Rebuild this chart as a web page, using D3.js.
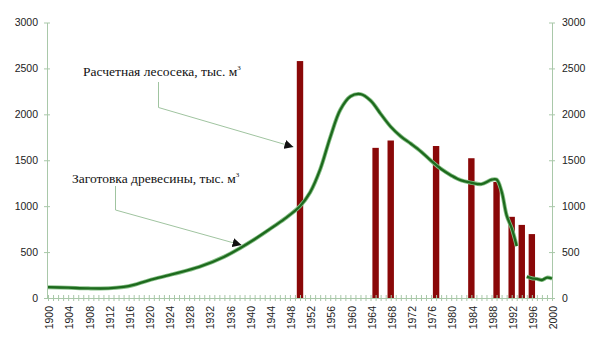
<!DOCTYPE html>
<html>
<head>
<meta charset="utf-8">
<script src="https://cdn.jsdelivr.net/npm/d3@7"></script>
<style>
  html, body { margin: 0; padding: 0; background: #fff; }
  svg { display: block; }
  .tick text { font-family: "Liberation Sans", Arial, sans-serif; font-size: 10.5px; fill: #222; }
  .note { font-family: "Liberation Serif", "Times New Roman", serif; font-size: 13.5px; fill: #111; }
</style>
</head>
<body>
<svg id="chart" width="600" height="346"></svg>
<script>
// Годы с расчетной лесосекой (тыс. м³)
const cutYears = [1950, 1965, 1968, 1977, 1984, 1989, 1992, 1994, 1996];
const cutValues = [2580, 1635, 1715, 1655, 1522, 1264, 884, 796, 696];

// Заготовка древесины (тыс. м³); null — нет данных
const harvestYears = [1900, 1904, 1908, 1912, 1915, 1917, 1920, 1925, 1930, 1935, 1938, 1941, 1944, 1947,
  1950, 1952, 1954, 1956, 1958, 1960, 1962, 1964, 1966, 1968, 1970, 1972, 1974, 1976, 1978, 1980,
  1982, 1984, 1986, 1988, 1989, 1990, 1991, 1992, 1993, 1994, 1995, 1996, 1997, 1998, 1999, 2000];
const harvestValues = [118, 112, 105, 105, 120, 142, 192, 262, 338, 450, 540, 640, 750, 865,
  1000, 1150, 1400, 1750, 2050, 2195, 2220, 2150, 2005, 1865, 1760, 1680, 1595, 1495, 1405, 1335,
  1280, 1255, 1240, 1288, 1290, 1160, 900, 760, 565, null, 232, 215, 208, 196, 222, 212];

const yTicks = [0, 500, 1000, 1500, 2000, 2500, 3000];
const xLabelYears = d3.range(1900, 2001, 4);
const allYears = d3.range(1900, 2001, 1);

const labelCut = "Расчетная лесосека, тыс. м";
const labelHarvest = "Заготовка древесины, тыс. м";

const svg = d3.select("#chart");
const axisColor = "#a9c8a9";

const x = d3.scaleLinear().domain([1900, 2000]).range([48, 552]);
const y = d3.scaleLinear().domain([0, 3000]).range([298, 22.5]);

// Bars
svg.append("g").selectAll("rect")
  .data(cutYears.map((yr, i) => ({ yr, v: cutValues[i] })))
  .join("rect")
  .attr("x", d => x(d.yr) - 3.2)
  .attr("width", 6.4)
  .attr("y", d => y(d.v))
  .attr("height", d => y(0) - y(d.v))
  .attr("fill", "#8a0808");

// Axes
function styleAxis(g) {
  g.select(".domain").attr("stroke", axisColor).attr("stroke-width", 1);
  g.selectAll(".tick line").attr("stroke", axisColor);
}

const fmt = d3.format("d");

const gL = svg.append("g").attr("transform", `translate(${x(1900) - 1},0)`)
  .call(d3.axisLeft(y).tickValues(yTicks).tickFormat(fmt).tickSizeInner(3).tickSizeOuter(0).tickPadding(6));
gL.selectAll(".tick line").attr("x1", 3);
styleAxis(gL);

const gR = svg.append("g").attr("transform", `translate(${x(2000)},0)`)
  .call(d3.axisRight(y).tickValues(yTicks).tickFormat(fmt).tickSizeInner(3).tickSizeOuter(0).tickPadding(7));
gR.selectAll(".tick line").attr("x1", -3);
styleAxis(gR);

const gB = svg.append("g").attr("transform", `translate(0,${y(0)})`)
  .call(d3.axisBottom(x).tickValues(allYears).tickFormat("").tickSizeInner(3).tickSizeOuter(0));
gB.selectAll(".tick line").attr("y1", -3);
styleAxis(gB);

const gBL = svg.append("g").attr("transform", `translate(1,${y(0)})`)
  .call(d3.axisBottom(x).tickValues(xLabelYears).tickFormat(fmt).tickSize(0));
gBL.select(".domain").remove();
gBL.selectAll(".tick text")
  .attr("transform", "rotate(-90)")
  .attr("text-anchor", "end")
  .attr("x", -8)
  .attr("y", 0)
  .attr("dy", "0.35em");

// Harvest line
const pts = harvestYears.map((yr, i) => ({ yr, v: harvestValues[i] }));
const line = d3.line()
  .defined(d => d.v !== null)
  .x(d => x(d.yr))
  .y(d => y(d.v))
  .curve(d3.curveCatmullRom.alpha(0.5));

svg.append("path").datum(pts).attr("d", line)
  .attr("fill", "none").attr("stroke", "#86bf86").attr("stroke-width", 4).attr("stroke-linejoin", "round");
svg.append("path").datum(pts).attr("d", line)
  .attr("fill", "none").attr("stroke", "#1d6a1d").attr("stroke-width", 2.3).attr("stroke-linejoin", "round");

// Annotations
svg.append("defs").append("marker")
  .attr("id", "arrow").attr("viewBox", "0 0 10 10")
  .attr("refX", 10).attr("refY", 5)
  .attr("markerWidth", 9).attr("markerHeight", 9)
  .attr("markerUnits", "userSpaceOnUse")
  .attr("orient", "auto")
  .append("path").attr("d", "M0,0 L10,5 L0,10 Z").attr("fill", "#111");

function note(text, tx, ty, lx, ly1, ly2, tipYear, tipValue) {
  const t = svg.append("text").attr("class", "note").attr("x", tx).attr("y", ty).text(text);
  t.append("tspan").attr("dy", -6).attr("font-size", "7px").text("3");
  svg.append("polyline")
    .attr("points", `${lx},${ly1} ${lx},${ly2} ${x(tipYear)},${y(tipValue)}`)
    .attr("fill", "none").attr("stroke", "#a0c4a0").attr("stroke-width", 1)
    .attr("marker-end", "url(#arrow)");
}

note(labelCut, 83, 76, 158.5, 82, 107.5, 1948.7, 1645);
note(labelHarvest, 72, 183, 115.5, 186, 210, 1938.4, 576);
</script>
</body>
</html>
